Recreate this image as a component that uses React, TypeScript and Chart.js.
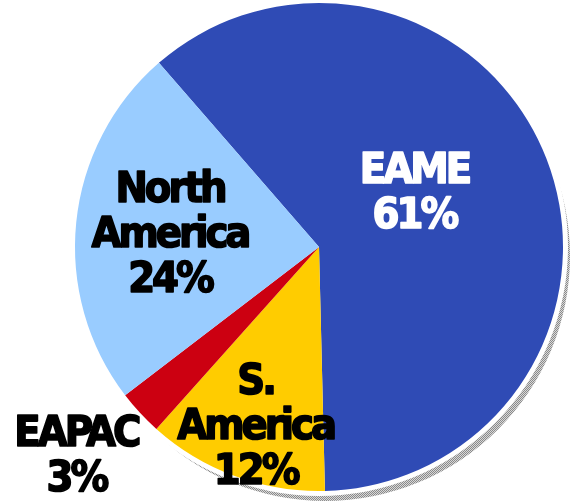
import React, { useEffect, useRef } from "react";
import { Chart, registerables } from "chart.js";

Chart.register(...registerables);

const categories = ["EAME", "S. America", "EAPAC", "North America"];
const shares = [61, 12, 3, 24];
const sliceColors = ["#2F4BB5", "#FFCC00", "#CC0011", "#99CCFF"];
const textColors = ["#FFFFFF", "#000000", "#000000", "#000000"];

// label placement style: radial factor and angular nudge (degrees)
const labelRadius = [0.45, 0.77, 1.31, 0.62];
const labelNudge = [-10, 0, 2.6, 0];

function makePattern(ctx: CanvasRenderingContext2D) {
  const c = document.createElement("canvas");
  c.width = 2;
  c.height = 2;
  const g = c.getContext("2d")!;
  g.fillStyle = "#8a8a8a";
  g.fillRect(0, 0, 1, 1);
  g.fillRect(1, 1, 1, 1);
  g.fillStyle = "#d8d8d8";
  g.fillRect(1, 0, 1, 1);
  g.fillRect(0, 1, 1, 1);
  return ctx.createPattern(c, "repeat");
}

const shadowPlugin = {
  id: "shadowRing",
  beforeDatasetsDraw(chart: any) {
    const arc = chart.getDatasetMeta(0).data[0];
    if (!arc) return;
    const { x, y, outerRadius: r } = arc;
    const ctx = chart.ctx as CanvasRenderingContext2D;
    ctx.save();
    ctx.fillStyle = makePattern(ctx) || "#bbbbbb";
    ctx.beginPath();
    ctx.arc(x + 6, y + 9, r + 1, 0, Math.PI * 2);
    ctx.fill();
    ctx.fillStyle = "#ffffff";
    ctx.beginPath();
    ctx.arc(x, y, r + 5, 0, Math.PI * 2);
    ctx.fill();
    ctx.restore();
  },
};

const labelPlugin = {
  id: "sliceLabels",
  afterDatasetsDraw(chart: any) {
    const ctx = chart.ctx as CanvasRenderingContext2D;
    const meta = chart.getDatasetMeta(0);
    ctx.save();
    ctx.font = "bold 43px 'DejaVu Sans Condensed', 'DejaVu Sans', sans-serif";
    (ctx as any).fontStretch = "condensed";
    (ctx as any).letterSpacing = "-3px";
    ctx.textAlign = "left";
    ctx.textBaseline = "alphabetic";
    ctx.lineJoin = "round";
    ctx.lineWidth = 1.6;
    const lineH = 45;
    const capHalf = 15.5;
    meta.data.forEach((arc: any, i: number) => {
      const { x, y, startAngle, endAngle, outerRadius } = arc;
      const mid = (startAngle + endAngle) / 2 + (labelNudge[i] * Math.PI) / 180;
      const cx = x + Math.cos(mid) * outerRadius * labelRadius[i];
      const cy = y + Math.sin(mid) * outerRadius * labelRadius[i];
      const lines = [...categories[i].split(" "), `${shares[i]}%`];
      const top = cy - ((lines.length - 1) * lineH) / 2;
      ctx.fillStyle = textColors[i];
      ctx.strokeStyle = textColors[i];
      lines.forEach((t, k) => {
        const w = ctx.measureText(t).width - 3;
        const tx = cx - w / 2;
        const ty = top + k * lineH + capHalf;
        ctx.fillText(t, tx, ty);
        ctx.strokeText(t, tx, ty);
      });
    });
    ctx.restore();
  },
};

export default function App() {
  const ref = useRef<HTMLCanvasElement>(null);
  useEffect(() => {
    document.body.style.margin = "0";
    const chart = new Chart(ref.current!, {
      type: "pie",
      data: {
        labels: categories,
        datasets: [
          {
            data: shares,
            backgroundColor: sliceColors,
            borderWidth: 0,
            hoverOffset: 0,
          },
        ],
      },
      options: {
        responsive: false,
        animation: false,
        rotation: -41,
        layout: { padding: { left: 75, right: 15, top: 3, bottom: 11 } },
        plugins: {
          legend: { display: false },
          tooltip: { enabled: false },
        },
        events: [],
      },
      plugins: [shadowPlugin, labelPlugin],
    });
    return () => chart.destroy();
  }, []);
  return (
    <div style={{ position: "fixed", left: 0, top: 0, width: 578, height: 502, background: "#fff" }}>
      <canvas ref={ref} width={578} height={502} />
    </div>
  );
}
